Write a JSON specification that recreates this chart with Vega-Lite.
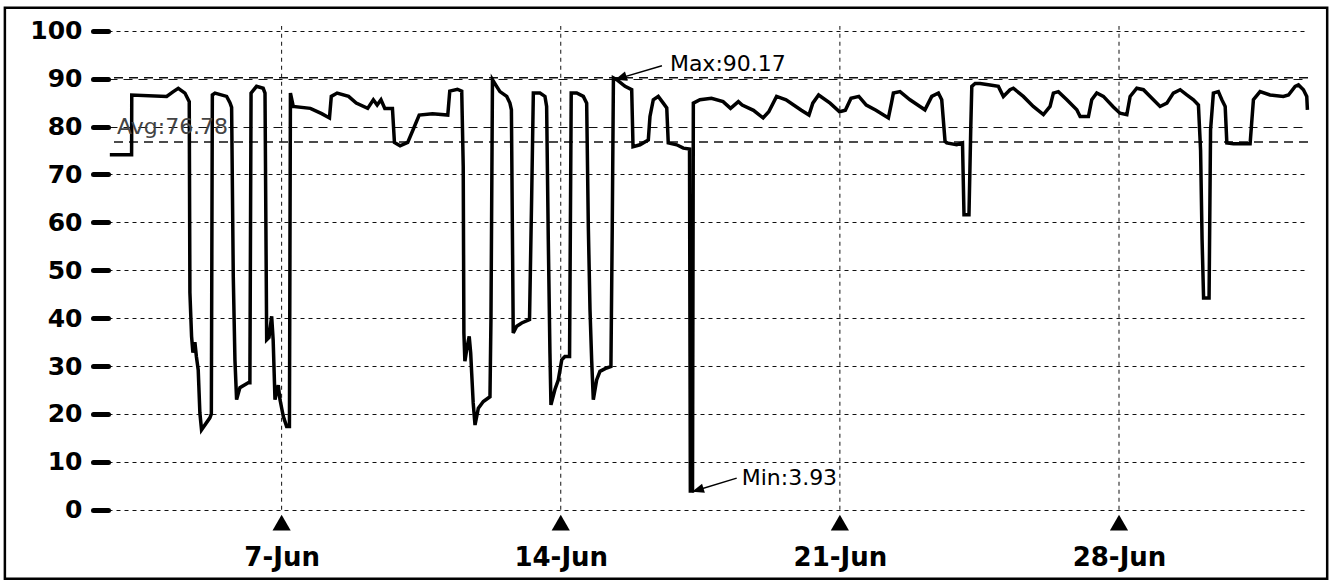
{
  "$schema": "https://vega.github.io/schema/vega-lite/v6.json",
  "width": 1200,
  "height": 512.5,
  "autosize": {"type": "none"},
  "padding": {"left": 108, "top": 26, "right": 23, "bottom": 44.5},
  "background": "white",
  "config": {"view": {"stroke": null}, "font": "DejaVu Sans"},
  "datasets": {
    "series": [
      {"t":"2014-06-02T16:36","v":74.1},{"t":"2014-06-03T05:42","v":74.1},{"t":"2014-06-03T05:48","v":86.6},
      {"t":"2014-06-04T02:48","v":86.3},{"t":"2014-06-04T06:48","v":87.3},{"t":"2014-06-04T09:48","v":88.0},
      {"t":"2014-06-04T13:48","v":87.0},{"t":"2014-06-04T16:24","v":85.2},{"t":"2014-06-04T16:48","v":45.3},
      {"t":"2014-06-04T17:48","v":36.2},{"t":"2014-06-04T18:36","v":32.8},{"t":"2014-06-04T19:48","v":35.0},
      {"t":"2014-06-04T20:42","v":32.0},{"t":"2014-06-04T21:48","v":29.2},{"t":"2014-06-04T22:48","v":20.2},
      {"t":"2014-06-04T23:48","v":16.7},{"t":"2014-06-05T04:48","v":19.2},{"t":"2014-06-05T05:42","v":20.0},
      {"t":"2014-06-05T06:18","v":86.6},{"t":"2014-06-05T07:54","v":87.0},{"t":"2014-06-05T14:54","v":86.3},
      {"t":"2014-06-05T16:54","v":85.0},{"t":"2014-06-05T17:54","v":84.0},{"t":"2014-06-05T18:54","v":48.7},
      {"t":"2014-06-05T19:54","v":31.3},{"t":"2014-06-05T20:54","v":23.0},{"t":"2014-06-05T22:54","v":25.5},
      {"t":"2014-06-06T03:54","v":26.5},{"t":"2014-06-06T04:54","v":26.5},{"t":"2014-06-06T05:36","v":87.0},
      {"t":"2014-06-06T08:54","v":88.4},{"t":"2014-06-06T12:54","v":88.0},{"t":"2014-06-06T14:00","v":87.0},
      {"t":"2014-06-06T15:00","v":35.5},{"t":"2014-06-06T16:24","v":36.0},{"t":"2014-06-06T18:00","v":40.4},
      {"t":"2014-06-06T18:54","v":35.5},{"t":"2014-06-06T20:00","v":23.0},{"t":"2014-06-06T22:00","v":26.0},
      {"t":"2014-06-06T23:00","v":23.0},{"t":"2014-06-07T01:00","v":19.5},{"t":"2014-06-07T03:00","v":17.4},
      {"t":"2014-06-07T04:42","v":17.4},{"t":"2014-06-07T05:18","v":87.0},{"t":"2014-06-07T07:00","v":84.2},
      {"t":"2014-06-07T17:18","v":83.8},{"t":"2014-06-08T00:06","v":82.7},{"t":"2014-06-08T04:48","v":81.8},
      {"t":"2014-06-08T05:54","v":86.3},{"t":"2014-06-08T09:24","v":87.0},{"t":"2014-06-08T16:18","v":86.3},
      {"t":"2014-06-08T20:54","v":84.9},{"t":"2014-06-09T03:48","v":83.8},{"t":"2014-06-09T07:12","v":85.6},
      {"t":"2014-06-09T09:30","v":84.5},{"t":"2014-06-09T11:48","v":85.6},{"t":"2014-06-09T14:06","v":83.8},
      {"t":"2014-06-09T18:42","v":83.8},{"t":"2014-06-09T19:54","v":76.7},{"t":"2014-06-09T23:18","v":76.0},
      {"t":"2014-06-10T03:54","v":76.7},{"t":"2014-06-10T07:18","v":79.5},{"t":"2014-06-10T10:48","v":82.4},
      {"t":"2014-06-10T18:48","v":82.7},{"t":"2014-06-11T04:00","v":82.4},{"t":"2014-06-11T05:12","v":87.4},
      {"t":"2014-06-11T09:48","v":87.8},{"t":"2014-06-11T12:24","v":87.4},{"t":"2014-06-11T13:18","v":71.7},
      {"t":"2014-06-11T13:42","v":36.9},{"t":"2014-06-11T14:18","v":31.0},{"t":"2014-06-11T15:42","v":34.1},
      {"t":"2014-06-11T16:54","v":36.2},{"t":"2014-06-11T17:48","v":32.7},{"t":"2014-06-11T18:24","v":28.5},
      {"t":"2014-06-11T19:18","v":22.3},{"t":"2014-06-11T20:24","v":17.7},{"t":"2014-06-11T22:24","v":21.2},
      {"t":"2014-06-12T01:24","v":22.6},{"t":"2014-06-12T05:24","v":23.6},{"t":"2014-06-12T06:00","v":40.0},
      {"t":"2014-06-12T06:54","v":89.8},{"t":"2014-06-12T09:24","v":88.4},{"t":"2014-06-12T11:24","v":87.3},
      {"t":"2014-06-12T15:30","v":86.3},{"t":"2014-06-12T17:24","v":84.9},{"t":"2014-06-12T18:18","v":83.5},
      {"t":"2014-06-12T19:24","v":36.9},{"t":"2014-06-12T21:30","v":38.3},{"t":"2014-06-13T00:30","v":39.0},
      {"t":"2014-06-13T05:12","v":39.7},{"t":"2014-06-13T06:30","v":65.4},{"t":"2014-06-13T07:30","v":87.0},
      {"t":"2014-06-13T11:30","v":87.0},{"t":"2014-06-13T14:30","v":86.3},{"t":"2014-06-13T15:30","v":84.2},
      {"t":"2014-06-13T16:30","v":56.4},{"t":"2014-06-13T17:30","v":32.7},{"t":"2014-06-13T18:06","v":21.9},
      {"t":"2014-06-13T20:30","v":25.1},{"t":"2014-06-13T22:30","v":27.1},{"t":"2014-06-14T00:36","v":31.3},
      {"t":"2014-06-14T02:30","v":32.0},{"t":"2014-06-14T05:18","v":32.0},{"t":"2014-06-14T06:18","v":87.0},
      {"t":"2014-06-14T09:36","v":87.0},{"t":"2014-06-14T13:36","v":86.3},{"t":"2014-06-14T15:36","v":84.9},
      {"t":"2014-06-14T16:36","v":59.1},{"t":"2014-06-14T17:36","v":41.8},{"t":"2014-06-14T18:36","v":31.3},
      {"t":"2014-06-14T19:36","v":23.0},{"t":"2014-06-14T21:36","v":27.1},{"t":"2014-06-14T23:36","v":28.9},
      {"t":"2014-06-15T03:36","v":29.6},{"t":"2014-06-15T06:12","v":29.9},{"t":"2014-06-15T07:00","v":59.1},
      {"t":"2014-06-15T07:42","v":90.17},{"t":"2014-06-15T09:42","v":89.8},{"t":"2014-06-15T14:42","v":88.4},
      {"t":"2014-06-15T18:42","v":87.7},{"t":"2014-06-15T19:30","v":75.8},{"t":"2014-06-15T23:42","v":76.2},
      {"t":"2014-06-16T04:42","v":77.2},{"t":"2014-06-16T05:42","v":82.1},{"t":"2014-06-16T07:42","v":85.6},
      {"t":"2014-06-16T10:42","v":86.3},{"t":"2014-06-16T13:42","v":84.9},{"t":"2014-06-16T15:48","v":83.9},
      {"t":"2014-06-16T16:42","v":76.6},{"t":"2014-06-16T21:48","v":76.2},{"t":"2014-06-17T01:48","v":75.5},
      {"t":"2014-06-17T05:30","v":75.3},{"t":"2014-06-17T06:00","v":3.93},{"t":"2014-06-17T07:18","v":3.93},
      {"t":"2014-06-17T07:48","v":84.9},{"t":"2014-06-17T11:48","v":85.6},{"t":"2014-06-17T18:42","v":85.9},
      {"t":"2014-06-18T01:42","v":85.2},{"t":"2014-06-18T06:12","v":83.8},{"t":"2014-06-18T10:54","v":85.2},
      {"t":"2014-06-18T13:12","v":84.5},{"t":"2014-06-18T20:00","v":83.4},{"t":"2014-06-19T01:48","v":81.8},
      {"t":"2014-06-19T05:12","v":83.1},{"t":"2014-06-19T09:54","v":86.3},{"t":"2014-06-19T15:36","v":85.6},
      {"t":"2014-06-20T00:48","v":83.4},{"t":"2014-06-20T05:24","v":82.4},{"t":"2014-06-20T07:42","v":84.9},
      {"t":"2014-06-20T11:12","v":86.6},{"t":"2014-06-20T18:06","v":84.9},{"t":"2014-06-20T23:48","v":83.1},
      {"t":"2014-06-21T03:18","v":83.4},{"t":"2014-06-21T06:42","v":85.9},{"t":"2014-06-21T11:24","v":86.3},
      {"t":"2014-06-21T15:54","v":84.5},{"t":"2014-06-21T21:42","v":83.4},{"t":"2014-06-22T05:12","v":81.8},
      {"t":"2014-06-22T07:06","v":85.0},{"t":"2014-06-22T08:12","v":87.0},{"t":"2014-06-22T12:12","v":87.3},
      {"t":"2014-06-22T18:12","v":85.6},{"t":"2014-06-23T00:12","v":84.2},{"t":"2014-06-23T03:12","v":83.5},
      {"t":"2014-06-23T07:18","v":86.3},{"t":"2014-06-23T11:18","v":87.0},{"t":"2014-06-23T13:18","v":85.6},
      {"t":"2014-06-23T15:18","v":76.9},{"t":"2014-06-23T16:18","v":76.6},{"t":"2014-06-23T22:18","v":76.2},
      {"t":"2014-06-24T01:48","v":76.6},{"t":"2014-06-24T02:42","v":61.6},{"t":"2014-06-24T05:42","v":61.6},
      {"t":"2014-06-24T06:48","v":80.0},{"t":"2014-06-24T07:24","v":88.4},{"t":"2014-06-24T09:24","v":89.0},
      {"t":"2014-06-24T12:24","v":89.0},{"t":"2014-06-24T18:24","v":88.7},{"t":"2014-06-24T23:24","v":88.4},
      {"t":"2014-06-25T02:24","v":86.3},{"t":"2014-06-25T06:24","v":87.7},{"t":"2014-06-25T08:24","v":88.0},
      {"t":"2014-06-25T14:24","v":86.3},{"t":"2014-06-25T20:24","v":84.2},{"t":"2014-06-26T02:30","v":82.5},
      {"t":"2014-06-26T06:30","v":84.2},{"t":"2014-06-26T08:30","v":87.0},{"t":"2014-06-26T11:30","v":87.3},
      {"t":"2014-06-26T16:36","v":85.6},{"t":"2014-06-26T22:36","v":83.5},{"t":"2014-06-27T00:36","v":82.1},
      {"t":"2014-06-27T05:36","v":82.1},{"t":"2014-06-27T07:36","v":85.6},{"t":"2014-06-27T10:36","v":87.0},
      {"t":"2014-06-27T14:36","v":86.3},{"t":"2014-06-27T20:36","v":84.1},{"t":"2014-06-28T00:36","v":82.8},
      {"t":"2014-06-28T04:42","v":82.5},{"t":"2014-06-28T06:42","v":86.3},{"t":"2014-06-28T10:42","v":88.0},
      {"t":"2014-06-28T14:42","v":87.7},{"t":"2014-06-28T20:42","v":85.6},{"t":"2014-06-29T00:42","v":84.2},
      {"t":"2014-06-29T04:48","v":84.9},{"t":"2014-06-29T08:42","v":87.0},{"t":"2014-06-29T12:48","v":87.7},
      {"t":"2014-06-29T16:48","v":86.6},{"t":"2014-06-29T20:48","v":85.6},{"t":"2014-06-29T23:48","v":84.5},
      {"t":"2014-06-30T01:06","v":75.0},{"t":"2014-06-30T02:00","v":56.4},{"t":"2014-06-30T02:54","v":44.2},
      {"t":"2014-06-30T06:12","v":44.2},{"t":"2014-06-30T07:06","v":79.3},{"t":"2014-06-30T08:48","v":87.0},
      {"t":"2014-06-30T11:48","v":87.3},{"t":"2014-06-30T13:54","v":85.6},{"t":"2014-06-30T15:54","v":84.2},
      {"t":"2014-06-30T16:54","v":76.6},{"t":"2014-06-30T20:54","v":76.4},{"t":"2014-07-01T06:54","v":76.4},
      {"t":"2014-07-01T08:54","v":85.6},{"t":"2014-07-01T12:54","v":87.3},{"t":"2014-07-01T18:54","v":86.6},
      {"t":"2014-07-02T02:54","v":86.3},{"t":"2014-07-02T06:00","v":86.6},{"t":"2014-07-02T10:00","v":88.4},
      {"t":"2014-07-02T12:00","v":88.7},{"t":"2014-07-02T15:00","v":87.7},{"t":"2014-07-02T17:00","v":86.3},
      {"t":"2014-07-02T17:24","v":83.5}
    ],
    "weeks": [
      {"d":"2014-06-07T00:00"},{"d":"2014-06-14T00:00"},{"d":"2014-06-21T00:00"},{"d":"2014-06-28T00:00"}
    ],
    "refs": [
      {"name":"Max","v":90.17},{"name":"Avg","v":76.78}
    ],
    "darkNotes": [
      {"label":"Max:90.17","t":"2014-06-16T17:42","v":93.1},
      {"label":"Min:3.93","t":"2014-06-18T12:54","v":6.7}
    ],
    "avgNote": [
      {"label":"Avg:76.78","t":"2014-06-02T20:54","v":80.0}
    ],
    "arrows": [
      {"t1":"2014-06-16T12:54","v1":92.7,"t2":"2014-06-15T08:36","v2":89.8},
      {"t1":"2014-06-18T09:54","v1":6.6,"t2":"2014-06-17T07:00","v2":3.76}
    ]
  },
  "layer": [
    {
      "data": {"name": "weeks"},
      "mark": {"type": "rule", "color": "#111", "strokeWidth": 1, "strokeDash": [4, 4]},
      "encoding": {
        "x": {
          "field": "d", "type": "temporal", "title": null,
          "scale": {"domain": [{"year":2014,"month":6,"date":2,"hours":15,"minutes":30},{"year":2014,"month":7,"date":2,"hours":17,"minutes":45}], "nice": false},
          "axis": {
            "values": [{"year":2014,"month":6,"date":7},{"year":2014,"month":6,"date":14},{"year":2014,"month":6,"date":21},{"year":2014,"month":6,"date":28}],
            "format": "%-d-%b", "ticks": false, "domain": false, "grid": false,
            "labelFont": "DejaVu Sans", "labelFontSize": 26, "labelFontWeight": "bold",
            "labelColor": "black", "labelPadding": 6, "labelOverlap": false
          }
        },
        "y": {
          "datum": 0, "type": "quantitative", "title": null,
          "scale": {"domain": [-6, 101], "nice": false, "zero": false},
          "axis": {
            "values": [0,10,20,30,40,50,60,70,80,90,100],
            "domain": false, "grid": true, "gridColor": "#111", "gridWidth": 1,
            "gridDash": {"condition": {"test": "datum.value === 80 || datum.value === 90", "value": [9, 6]}, "value": [4, 4]},
            "ticks": true, "tickSize": 15, "tickWidth": 5, "tickColor": "black", "tickCap": "round",
            "labelFont": "DejaVu Sans", "labelFontSize": 25, "labelFontWeight": "bold",
            "labelColor": "black", "labelPadding": 11
          }
        },
        "y2": {"datum": 101}
      }
    },
    {
      "data": {"name": "weeks"},
      "mark": {"type": "point", "shape": "triangle-up", "filled": true, "color": "black", "size": 330, "opacity": 1},
      "encoding": {
        "x": {"field": "d", "type": "temporal", "title": null},
        "y": {"datum": -2.7, "type": "quantitative", "title": null}
      }
    },
    {
      "data": {"name": "refs"},
      "mark": {"type": "rule", "color": "#111", "strokeWidth": 1.5, "strokeDash": [9, 6]},
      "encoding": {
        "y": {"field": "v", "type": "quantitative", "title": null}
      }
    },
    {
      "data": {"name": "series"},
      "mark": {"type": "line", "color": "black", "strokeWidth": 3.5},
      "encoding": {
        "x": {"field": "t", "type": "temporal", "title": null},
        "y": {"field": "v", "type": "quantitative", "title": null}
      }
    },
    {
      "data": {"name": "arrows"},
      "mark": {"type": "rule", "color": "black", "strokeWidth": 1.5},
      "encoding": {
        "x": {"field": "t1", "type": "temporal", "title": null},
        "y": {"field": "v1", "type": "quantitative", "title": null},
        "x2": {"field": "t2"},
        "y2": {"field": "v2"}
      }
    },
    {
      "data": {"name": "arrows"},
      "mark": {"type": "point", "shape": "M0,0L1,-0.4L1,0.4Z", "filled": true, "color": "black", "size": 576, "angle": 343, "opacity": 1},
      "encoding": {
        "x": {"field": "t2", "type": "temporal", "title": null},
        "y": {"field": "v2", "type": "quantitative", "title": null}
      }
    },
    {
      "data": {"name": "darkNotes"},
      "mark": {"type": "text", "align": "left", "baseline": "middle", "font": "DejaVu Sans", "fontSize": 22, "color": "black"},
      "encoding": {
        "x": {"field": "t", "type": "temporal", "title": null},
        "y": {"field": "v", "type": "quantitative", "title": null},
        "text": {"field": "label"}
      }
    },
    {
      "data": {"name": "avgNote"},
      "mark": {"type": "text", "align": "left", "baseline": "middle", "font": "DejaVu Sans", "fontSize": 22, "color": "#444"},
      "encoding": {
        "x": {"field": "t", "type": "temporal", "title": null},
        "y": {"field": "v", "type": "quantitative", "title": null},
        "text": {"field": "label"}
      }
    },
    {
      "data": {"values": [{}]},
      "mark": {"type": "rect", "fill": null, "filled": false, "stroke": "black", "strokeWidth": 2.5},
      "encoding": {
        "x": {"datum": {"year":2014,"month":5,"date":31,"hours":1,"minutes":26}, "type": "temporal", "title": null},
        "x2": {"datum": {"year":2014,"month":7,"date":3,"hours":5,"minutes":18}},
        "y": {"datum": 104.8, "type": "quantitative", "title": null},
        "y2": {"datum": -14.4}
      }
    }
  ]
}
